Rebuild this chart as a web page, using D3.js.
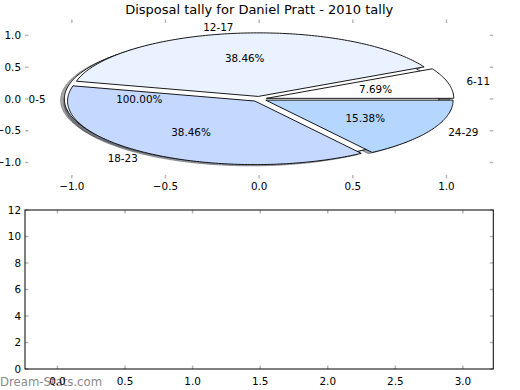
<!DOCTYPE html>
<html><head><meta charset="utf-8">
<script src="https://cdn.jsdelivr.net/npm/d3@7"></script>
<style>html,body{margin:0;padding:0;background:#fff}svg{display:block}text{font-family:"DejaVu Sans",sans-serif}</style>
</head><body><div id="chart"></div>
<script>
// ---- data ----
const title = "Disposal tally for Daniel Pratt - 2010 tally";
const baseLabels = ["0-5"];
const baseValues = [1];
const baseColors = ["#ffffff"];
const pieLabels = ["6-11", "12-17", "18-23", "24-29"];
const pieValues = [1, 5, 5, 2];
const pieColors = ["#ffffff", "#eaf1ff", "#c5d8ff", "#b4d6ff"];
const pieTicks = [-1.0, -0.5, 0.0, 0.5, 1.0];
const barYTicks = [0, 2, 4, 6, 8, 10, 12];
const barXTicks = [0.0, 0.5, 1.0, 1.5, 2.0, 2.5, 3.0];
const watermark = "Dream-Stats.com";

const W = 520, H = 390;
const svg = d3.select("#chart").append("svg").attr("width", W).attr("height", H);
const FS = 10.4;
const explode = 0.04;

// ---- top (pie) axes ----
const px = d3.scaleLinear().domain([-1.25, 1.25]).range([25, 493.3]);
const py = d3.scaleLinear().domain([-1.25, 1.25]).range([178.4, 19.5]);
const line = d3.line().x(d => px(d[0])).y(d => py(d[1]));

function wedgePts(cx, cy, a0, a1) {
  const pts = [];
  const full = Math.abs(a1 - a0 - 360) < 1e-9;
  if (!full) pts.push([cx, cy]);
  const n = Math.max(2, Math.ceil((a1 - a0) / 1));
  for (let i = 0; i <= n; i++) {
    const a = (a0 + (a1 - a0) * i / n) * Math.PI / 180;
    pts.push([cx + Math.cos(a), cy + Math.sin(a)]);
  }
  return pts;
}
function makeWedges(values, labels, colors) {
  const total = d3.sum(values);
  let a = 0;
  return values.map((v, i) => {
    const a0 = a, a1 = a + 360 * v / total; a = a1;
    const mid = (a0 + a1) / 2 * Math.PI / 180;
    const cx = explode * Math.cos(mid), cy = explode * Math.sin(mid);
    return {label: labels[i], color: colors[i], a0, a1, mid, cx, cy, pct: (100 * v / total).toFixed(2) + "%"};
  });
}
const base = makeWedges(baseValues, baseLabels, baseColors);
const main = makeWedges(pieValues, pieLabels, pieColors);
const all = base.concat(main);

function shadowColor(c) {
  const r = d3.rgb(c);
  return d3.rgb(r.r * 0.3, r.g * 0.3, r.b * 0.3).formatHex();
}
const gP = svg.append("g");
// shadows
all.forEach(w => {
  const pts = wedgePts(w.cx - 0.02, w.cy - 0.02, w.a0, w.a1);
  gP.append("path").attr("d", line(pts) + "Z")
    .attr("fill", shadowColor(w.color)).attr("fill-opacity", 0.5)
    .attr("stroke", shadowColor(w.color)).attr("stroke-opacity", 0.5).attr("stroke-width", 0.9);
});
// wedges
all.forEach(w => {
  const pts = wedgePts(w.cx, w.cy, w.a0, w.a1);
  gP.append("path").attr("d", line(pts) + "Z")
    .attr("fill", w.color).attr("stroke", "#000").attr("stroke-width", 0.9).attr("stroke-linejoin", "miter");
});
// labels
all.forEach(w => {
  const lx = w.cx + 1.1 * Math.cos(w.mid), ly = w.cy + 1.1 * Math.sin(w.mid);
  gP.append("text").attr("x", px(lx)).attr("y", py(ly)).attr("dy", "0.36em")
    .attr("text-anchor", lx > 0 ? "start" : "end").attr("font-size", FS).text(w.label);
  const tx = w.cx + 0.6 * Math.cos(w.mid), ty = w.cy + 0.6 * Math.sin(w.mid);
  gP.append("text").attr("x", px(tx)).attr("y", py(ty)).attr("dy", "0.36em")
    .attr("text-anchor", "middle").attr("font-size", FS).text(w.pct);
});

const tickCol = "#b8b8b8";
const fmt1 = d3.format(".1f");
function minus(s) { return s.replace("-", "\u2212"); }
// pie axes ticks (no frame)
const gT = svg.append("g");
pieTicks.forEach(t => {
  gT.append("line").attr("x1", px(t)).attr("x2", px(t)).attr("y1", py.range()[0]).attr("y2", py.range()[0] - 3.5).attr("stroke", tickCol).attr("stroke-width", 1.5);
  gT.append("line").attr("x1", px(t)).attr("x2", px(t)).attr("y1", py.range()[1]).attr("y2", py.range()[1] + 3.5).attr("stroke", tickCol).attr("stroke-width", 1.5);
  gT.append("line").attr("y1", py(t)).attr("y2", py(t)).attr("x1", px.range()[0]).attr("x2", px.range()[0] + 3.5).attr("stroke", tickCol).attr("stroke-width", 1.5);
  gT.append("line").attr("y1", py(t)).attr("y2", py(t)).attr("x1", px.range()[1]).attr("x2", px.range()[1] - 3.5).attr("stroke", tickCol).attr("stroke-width", 1.5);
  gT.append("text").attr("x", px(t)).attr("y", 190).attr("text-anchor", "middle").attr("font-size", FS).text(minus(fmt1(t)));
  gT.append("text").attr("x", 21).attr("y", py(t)).attr("dy", "0.36em").attr("text-anchor", "end").attr("font-size", FS).text(minus(fmt1(t)));
});
svg.append("text").attr("x", 259.2).attr("y", 13.5).attr("text-anchor", "middle").attr("font-size", 13).text(title);

// ---- bottom (empty) axes ----
svg.append("text").attr("x", 0).attr("y", 385.5).attr("font-size", 11.7).attr("fill", "#8a8a8a").text(watermark);
const bx = d3.scaleLinear().domain([-0.24, 3.225]).range([25, 493.3]);
const by = d3.scaleLinear().domain([0, 12]).range([369, 210]);
const gB = svg.append("g");
barXTicks.forEach(t => {
  gB.append("line").attr("x1", bx(t)).attr("x2", bx(t)).attr("y1", by.range()[0]).attr("y2", by.range()[0] - 3.5).attr("stroke", tickCol).attr("stroke-width", 1.5);
  gB.append("line").attr("x1", bx(t)).attr("x2", bx(t)).attr("y1", by.range()[1]).attr("y2", by.range()[1] + 3.5).attr("stroke", tickCol).attr("stroke-width", 1.5);
  gB.append("text").attr("x", bx(t)).attr("y", 385).attr("text-anchor", "middle").attr("font-size", FS).text(fmt1(t));
});
barYTicks.forEach(t => {
  gB.append("line").attr("y1", by(t)).attr("y2", by(t)).attr("x1", bx.range()[0]).attr("x2", bx.range()[0] + 3.5).attr("stroke", tickCol).attr("stroke-width", 1.5);
  gB.append("line").attr("y1", by(t)).attr("y2", by(t)).attr("x1", bx.range()[1]).attr("x2", bx.range()[1] - 3.5).attr("stroke", tickCol).attr("stroke-width", 1.5);
  gB.append("text").attr("x", 21).attr("y", by(t)).attr("dy", "0.36em").attr("text-anchor", "end").attr("font-size", FS).text(t);
});
gB.append("rect").attr("x", bx.range()[0]).attr("y", by.range()[1])
  .attr("width", bx.range()[1] - bx.range()[0]).attr("height", by.range()[0] - by.range()[1])
  .attr("fill", "none").attr("stroke", "#000").attr("stroke-width", 1);
</script></body></html>
